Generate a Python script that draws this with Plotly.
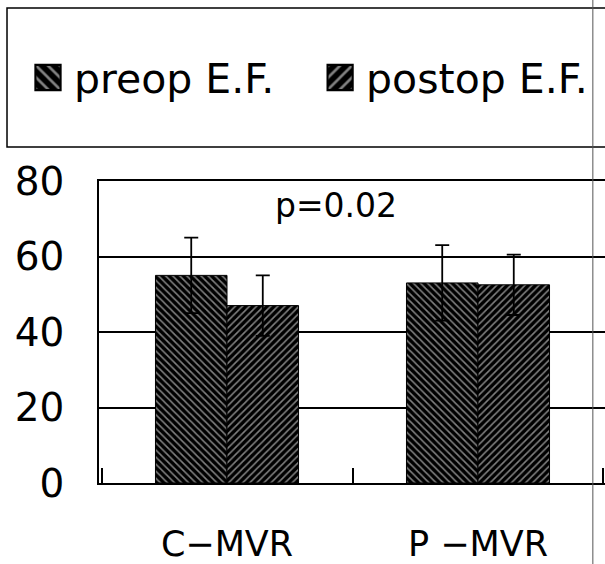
import plotly.graph_objects as go

categories = ["C−MVR", "P −MVR"]
preop_ef = [55, 53]
preop_err = [10, 10]
postop_ef = [47, 52.5]
postop_err = [8, 8]
y_ticks = [0, 20, 40, 60, 80]
p_text = "p=0.02"

FONT = "DejaVu Sans"

fig = go.Figure()
fig.add_trace(go.Bar(
    name="preop E.F.", x=categories, y=preop_ef, legend="legend",
    error_y=dict(type="data", array=preop_err, visible=True, color="black", thickness=1.8, width=7),
    marker=dict(color="black", line=dict(color="black", width=1),
                pattern=dict(shape="\\", fgcolor="white", bgcolor="black", size=5, solidity=0.32)),
))
fig.add_trace(go.Bar(
    name="postop E.F.", x=categories, y=postop_ef, legend="legend2",
    error_y=dict(type="data", array=postop_err, visible=True, color="black", thickness=1.8, width=7),
    marker=dict(color="black", line=dict(color="black", width=1),
                pattern=dict(shape="/", fgcolor="white", bgcolor="black", size=5, solidity=0.32)),
))

leg_common = dict(xref="container", yref="container", xanchor="left", yanchor="middle",
                  font=dict(family=FONT, size=41, color="black"),
                  bgcolor="rgba(0,0,0,0)", borderwidth=0)

fig.update_layout(
    width=605, height=564,
    margin=dict(l=99, r=0, t=181, b=81, autoexpand=False),
    paper_bgcolor="white", plot_bgcolor="white",
    barmode="group", bargap=0.43, bargroupgap=0,
    font=dict(family=FONT, color="black"),
    showlegend=True,
    legend=dict(x=0.0562, y=0.862, **leg_common),
    legend2=dict(x=0.539, y=0.862, **leg_common),
    xaxis=dict(type="category", range=[-0.51, 1.506], automargin=False,
               showline=True, linecolor="black", linewidth=1.5, mirror=True,
               ticks="inside", tickson="boundaries", ticklen=15, tickcolor="black", tickwidth=1.5,
               showgrid=False, tickfont=dict(family=FONT, size=35, color="black"),
               ticklabelstandoff=29),
    yaxis=dict(range=[0, 80], tickvals=y_ticks, automargin=False,
               showline=True, linecolor="black", linewidth=1.5,
               showgrid=True, gridcolor="black", gridwidth=1.5,
               zeroline=False, ticks="",
               tickfont=dict(family=FONT, size=39, color="black"),
               ticklabelstandoff=25),
    annotations=[dict(x=0.433, y=73.6, xref="x", yref="y", text=p_text, showarrow=False,
                      font=dict(family=FONT, size=33, color="black"))],
    shapes=[
        dict(type="rect", xref="paper", yref="paper", x0=-0.1818, x1=1.05, y0=1.1126, y1=1.573,
             line=dict(color="black", width=1.5), fillcolor="rgba(0,0,0,0)"),
        dict(type="line", xref="paper", yref="paper", x0=0.976, x1=0.976, y0=-0.27, y1=1.6,
             line=dict(color="#555555", width=1)),
    ],
)

post = (
    "document.body.style.margin='0';document.body.style.overflow='hidden';"
    "document.querySelectorAll('g.legendpoints path').forEach(function(p){"
    "var t=p.getAttribute('transform')||'';p.setAttribute('transform',t+' translate(-6,0) scale(2.1)');});"
)
fig.write_html("out.html", config={"displayModeBar": False}, post_script=post)
